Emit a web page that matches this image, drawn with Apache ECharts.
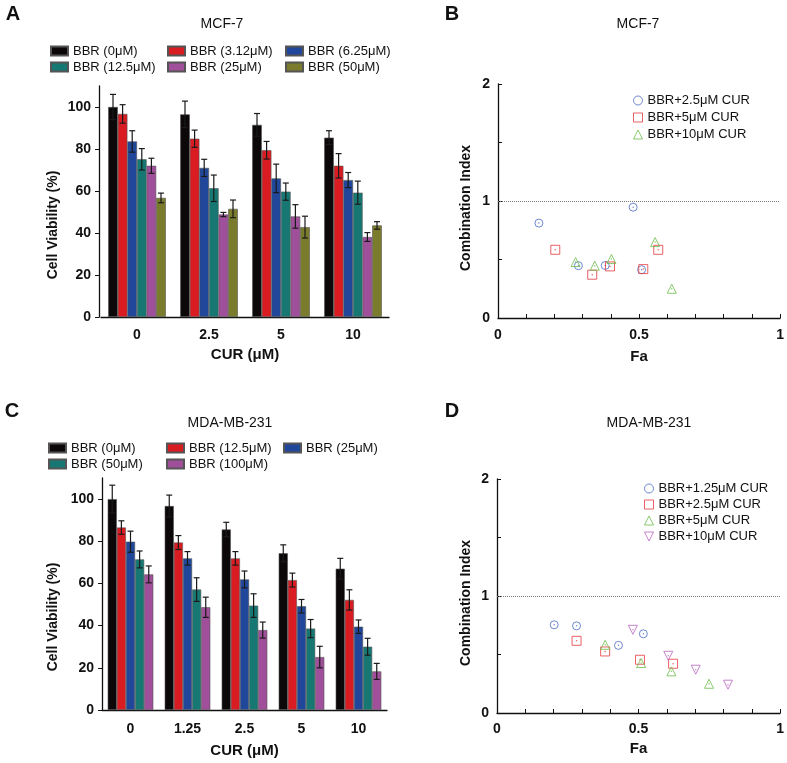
<!DOCTYPE html>
<html>
<head>
<meta charset="utf-8">
<script src="https://cdn.jsdelivr.net/npm/echarts@6/dist/echarts.min.js"></script>
<style>
  html, body { margin: 0; padding: 0; background: #fff; }
  #top { position: absolute; left: 0; top: 0; width: 787px; height: 380px; }
  #bot { position: absolute; left: 0; top: 380px; width: 787px; height: 383px; }
</style>
</head>
<body>
<div id="top"></div>
<div id="bot"></div>
<script>
// ---- panel A: MCF-7 viability ----
var catsA = ['0', '2.5', '5', '10'];
var namesA = ['BBR (0μM)', 'BBR (3.12μM)', 'BBR (6.25μM)', 'BBR (12.5μM)', 'BBR (25μM)', 'BBR (50μM)'];
var a0 = [100, 96.5, 91.5, 85.4];
var a312 = [96.7, 84.9, 79.4, 72.0];
var a625 = [83.6, 71.0, 66.0, 65.2];
var a125 = [75.1, 61.3, 59.7, 59.2];
var a25 = [72.0, 48.8, 47.9, 38.1];
var a50 = [56.7, 51.5, 42.8, 43.6];
var a0Err = [6.0, 6.3, 5.4, 3.3];
var a312Err = [4.4, 4.1, 4.2, 5.8];
var a625Err = [5.1, 4.1, 6.8, 3.6];
var a125Err = [5.1, 6.3, 4.1, 5.5];
var a25Err = [3.6, 1.0, 5.6, 2.1];
var a50Err = [2.3, 4.2, 5.2, 1.8];

// ---- panel C: MDA-MB-231 viability ----
var catsC = ['0', '1.25', '2.5', '5', '10'];
var namesC = ['BBR (0μM)', 'BBR (12.5μM)', 'BBR (25μM)', 'BBR (50μM)', 'BBR (100μM)'];
var c0 = [100, 96.7, 85.6, 74.3, 67.0];
var c125 = [86.5, 79.4, 71.9, 61.6, 52.2];
var c25 = [79.8, 71.9, 61.9, 49.2, 39.5];
var c50 = [71.4, 57.1, 49.5, 38.6, 30.0];
var c100 = [64.3, 48.7, 37.9, 25.1, 18.3];
var c0Err = [6.6, 5.2, 3.4, 4.0, 4.9];
var c125Err = [3.2, 3.3, 3.2, 3.3, 4.8];
var c25Err = [5.0, 3.2, 4.0, 3.2, 3.2];
var c50Err = [4.0, 5.6, 5.6, 4.3, 4.0];
var c100Err = [4.0, 4.8, 3.8, 5.1, 3.8];

// ---- panel B: MCF-7 combination index (Fa, CI) ----
var namesB = ['BBR+2.5μM CUR', 'BBR+5μM CUR', 'BBR+10μM CUR'];
var bCur25 = [[0.145, 0.811], [0.285, 0.447], [0.380, 0.449], [0.479, 0.947], [0.509, 0.413]];
var bCur5 = [[0.203, 0.583], [0.334, 0.370], [0.397, 0.441], [0.515, 0.418], [0.568, 0.583]];
var bCur10 = [[0.275, 0.478], [0.343, 0.447], [0.402, 0.504], [0.557, 0.649], [0.616, 0.250]];

// ---- panel D: MDA-MB-231 combination index ----
var namesD = ['BBR+1.25μM CUR', 'BBR+2.5μM CUR', 'BBR+5μM CUR', 'BBR+10μM CUR'];
var dCur125 = [[0.202, 0.754], [0.281, 0.745], [0.429, 0.578], [0.517, 0.677]];
var dCur25 = [[0.281, 0.617], [0.382, 0.526], [0.505, 0.455], [0.622, 0.421]];
var dCur5 = [[0.382, 0.583], [0.509, 0.427], [0.616, 0.356], [0.749, 0.250]];
var dCur10 = [[0.480, 0.711], [0.605, 0.489], [0.702, 0.370], [0.816, 0.242]];

var FONT = 'Liberation Sans, Arial, sans-serif';
var DOWN_TRI = 'path://M0,0L10,0L5,10Z';
var barColors = ['#0c0809', '#d91c22', '#21479a', '#177873', '#a0509a', '#7a7b2c'];
var barColorsC = ['#0c0809', '#d91c22', '#21479a', '#177873', '#a0509a'];

function errRender(idx, n) {
  return function (params, api) {
    var c = api.value(0), v = api.value(1), e = api.value(2);
    var band = api.size([1, 0])[0];
    var bw = band * 0.8 / n;
    var x = api.coord([c, v])[0] - band * 0.4 + bw * (idx + 0.5);
    var hi = api.coord([c, v + e])[1];
    var lo = api.coord([c, v - e])[1];
    var st = { stroke: '#1a1a1a', lineWidth: 1.2 };
    return {
      type: 'group',
      children: [
        { type: 'line', shape: { x1: x, y1: hi, x2: x, y2: lo }, style: st },
        { type: 'line', shape: { x1: x - 3, y1: hi, x2: x + 3, y2: hi }, style: st },
        { type: 'line', shape: { x1: x - 3, y1: lo, x2: x + 3, y2: lo }, style: st }
      ]
    };
  };
}

function barSeries(names, means, errs, colors) {
  var out = [];
  var n = names.length;
  for (var i = 0; i < n; i++) {
    out.push({
      name: names[i], type: 'bar', xAxisIndex: 0, yAxisIndex: 0,
      data: means[i], barGap: 0, barCategoryGap: '20%',
      itemStyle: { color: colors[i], borderColor: '#555', borderWidth: 0.6 }
    });
  }
  for (var j = 0; j < n; j++) {
    out.push({
      type: 'custom', xAxisIndex: 0, yAxisIndex: 0, silent: true, z: 3,
      renderItem: errRender(j, n),
      encode: { x: 0, y: 1 },
      data: means[j].map(function (m, k) { return [k, m, errs[j][k]]; })
    });
  }
  return out;
}

function barLegends(names, cols, rows) {
  return names.map(function (nm, i) {
    return {
      data: [nm], left: cols[i % 3], top: rows[Math.floor(i / 3)] - 7,
      padding: 0, icon: 'rect', itemWidth: 17, itemHeight: 9, selectedMode: false,
      textStyle: { fontFamily: FONT, fontSize: 13, color: '#111', lineHeight: 14 }
    };
  });
}

function barAxes(cats, left, top, width, height) {
  return {
    grid: { left: left, top: top, width: width, height: height },
    xAxis: {
      type: 'category', data: cats, gridIndex: 0,
      axisLine: { lineStyle: { color: '#111', width: 1.3 } },
      axisTick: { alignWithLabel: true, length: 4, lineStyle: { color: '#111' } },
      axisLabel: { fontFamily: FONT, fontSize: 14, fontWeight: 'bold', color: '#111', margin: 11 },
      name: 'CUR (μM)', nameLocation: 'middle', nameGap: 30,
      nameTextStyle: { fontFamily: FONT, fontSize: 15, fontWeight: 'bold', color: '#111' }
    },
    yAxis: {
      type: 'value', gridIndex: 0, min: 0, max: 110, interval: 20, offset: 2,
      splitLine: { show: false },
      axisLine: { show: true, lineStyle: { color: '#111', width: 1.3 } },
      axisTick: { show: true, length: 4, lineStyle: { color: '#111' } },
      axisLabel: { fontFamily: FONT, fontSize: 14, fontWeight: 'bold', color: '#111', margin: 8, showMaxLabel: false }
    }
  };
}

function ciAxes(left, top, width, height) {
  return {
    grid: { left: left, top: top, width: width, height: height },
    xAxis: {
      type: 'value', gridIndex: 1, min: 0, max: 1, interval: 0.1,
      splitLine: { show: false },
      axisLine: { lineStyle: { color: '#111', width: 1.3 } },
      axisTick: { inside: true, length: 4, lineStyle: { color: '#111' } },
      axisLabel: {
        fontFamily: FONT, fontSize: 14, fontWeight: 'bold', color: '#111', margin: 10,
        formatter: function (v) { return Math.abs(v * 2 - Math.round(v * 2)) < 1e-6 ? String(Math.round(v * 10) / 10) : ''; }
      },
      name: 'Fa', nameLocation: 'middle', nameGap: 31,
      nameTextStyle: { fontFamily: FONT, fontSize: 15, fontWeight: 'bold', color: '#111' }
    },
    yAxis: {
      type: 'value', gridIndex: 1, min: 0, max: 2, interval: 0.5,
      splitLine: { show: false },
      axisLine: { show: true, lineStyle: { color: '#111', width: 1.3 } },
      axisTick: { show: true, inside: true, length: 4, lineStyle: { color: '#111' } },
      axisLabel: {
        fontFamily: FONT, fontSize: 14, fontWeight: 'bold', color: '#111', margin: 8,
        formatter: function (v) { return Math.abs(v - Math.round(v)) < 1e-6 ? String(Math.round(v)) : ''; }
      }
    }
  };
}

function ciSeries(names, sets, colors, symbols) {
  var out = [];
  for (var i = 0; i < names.length; i++) {
    var s = {
      name: names[i], type: 'scatter', xAxisIndex: 1, yAxisIndex: 1,
      data: sets[i], symbol: symbols[i], symbolSize: symbols[i] === 'circle' ? 8 : 9,
      itemStyle: { color: 'rgba(255,255,255,0)', borderColor: colors[i], borderWidth: 1 }
    };
    if (i === 0) {
      s.markLine = {
        silent: true, symbol: 'none', label: { show: false },
        lineStyle: { type: 'dotted', color: '#777', width: 1 },
        data: [{ yAxis: 1 }]
      };
    }
    out.push(s);
    // tiny centre dot
    out.push({
      type: 'scatter', xAxisIndex: 1, yAxisIndex: 1, silent: true,
      data: sets[i], symbol: 'circle', symbolSize: 1.5,
      itemStyle: { color: colors[i] }
    });
  }
  return out;
}

function txt(text, x, y, size, bold, rot) {
  return {
    type: 'text', x: x, y: y, rotation: rot || 0,
    style: {
      text: text, fontFamily: FONT, fontSize: size, fontWeight: bold ? 'bold' : 'normal',
      fill: '#111', align: 'center', verticalAlign: 'middle'
    }
  };
}

// ---- top row ----
var axA = barAxes(catsA, 101, 86, 288, 231);
var axB = ciAxes(498, 84, 283, 234);
var legB = {
  data: namesB, orient: 'vertical', left: 633, top: 93, padding: 0,
  itemWidth: 9, itemHeight: 9, itemGap: 2, selectedMode: false,
  itemStyle: { borderWidth: 1 },
  textStyle: { fontFamily: FONT, fontSize: 13, color: '#111', lineHeight: 15 }
};
var topChart = echarts.init(document.getElementById('top'));
topChart.setOption({
  animation: false,
  grid: [axA.grid, axB.grid],
  xAxis: [axA.xAxis, axB.xAxis],
  yAxis: [axA.yAxis, axB.yAxis],
  legend: barLegends(namesA, [50, 167, 285], [51, 67]).concat([legB]),
  graphic: [
    txt('A', 13, 14, 20, true),
    txt('MCF-7', 222, 24, 14, false),
    txt('Cell Viability (%)', 53, 225, 14, true, Math.PI / 2),
    txt('B', 452, 14, 20, true),
    txt('MCF-7', 638, 24, 14, false),
    txt('Combination Index', 466, 208, 14, true, Math.PI / 2)
  ],
  series: barSeries(namesA, [a0, a312, a625, a125, a25, a50],
      [a0Err, a312Err, a625Err, a125Err, a25Err, a50Err], barColors)
    .concat(ciSeries(namesB, [bCur25, bCur5, bCur10],
      ['#4a6cc4', '#e5393e', '#6cbb4a'], ['circle', 'rect', 'triangle']))
});

// ---- bottom row ----
var axC = barAxes(catsC, 102, 98, 285, 232);
axC.xAxis.nameGap = 33;
axC.xAxis.axisLabel.margin = 12;
axC.yAxis.offset = 0;
var axD = ciAxes(497, 99, 285, 234);
axD.xAxis.nameGap = 28;
axD.xAxis.axisLabel.margin = 9;
var legD = {
  data: [namesD[0], namesD[1], namesD[2], { name: namesD[3], icon: DOWN_TRI }],
  orient: 'vertical', left: 644, top: 101, padding: 0,
  itemWidth: 9, itemHeight: 9, itemGap: 1, selectedMode: false,
  itemStyle: { borderWidth: 1 },
  textStyle: { fontFamily: FONT, fontSize: 13, color: '#111', lineHeight: 15 }
};
var botChart = echarts.init(document.getElementById('bot'));
botChart.setOption({
  animation: false,
  grid: [axC.grid, axD.grid],
  xAxis: [axC.xAxis, axD.xAxis],
  yAxis: [axC.yAxis, axD.yAxis],
  legend: barLegends(namesC, [48, 166, 283], [68, 84]).concat([legD]),
  graphic: [
    txt('C', 12, 31, 20, true),
    txt('MDA-MB-231', 230, 43, 14, false),
    txt('Cell Viability (%)', 53, 237, 14, true, Math.PI / 2),
    txt('D', 452, 31, 20, true),
    txt('MDA-MB-231', 649, 43, 14, false),
    txt('Combination Index', 466, 223, 14, true, Math.PI / 2)
  ],
  series: barSeries(namesC, [c0, c125, c25, c50, c100],
      [c0Err, c125Err, c25Err, c50Err, c100Err], barColorsC)
    .concat(ciSeries(namesD, [dCur125, dCur25, dCur5, dCur10],
      ['#4a6cc4', '#e5393e', '#6cbb4a', '#b865c0'], ['circle', 'rect', 'triangle', DOWN_TRI]))
});
</script>
</body>
</html>
